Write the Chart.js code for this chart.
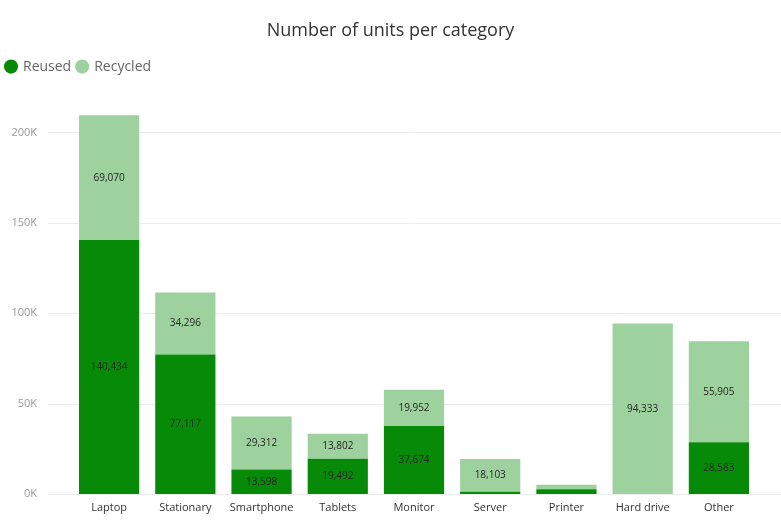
<!DOCTYPE html>
<html>
<head>
<meta charset="utf-8">
<script src="https://cdn.jsdelivr.net/npm/chart.js@4"></script>
<style>
  html, body { margin: 0; padding: 0; background: #fff; overflow: hidden; }
  canvas { display: block; }
</style>
</head>
<body>
<canvas id="units" width="781" height="520"></canvas>
<script>
const categories = ['Laptop', 'Stationary', 'Smartphone', 'Tablets', 'Monitor', 'Server', 'Printer', 'Hard drive', 'Other'];
const reused = [140434, 77117, 13598, 19492, 37674, 1200, 2600, 0, 28583];
const recycled = [69070, 34296, 29312, 13802, 19952, 18103, 2500, 94333, 55905];
const yTicks = [0, 50000, 100000, 150000, 200000];

const fontFamily = '"Open Sans", "DejaVu Sans", sans-serif';

// light grid lines that run across the whole width, like the original
const gridPlugin = {
  id: 'wideGrid',
  beforeDatasetsDraw(chart) {
    const ctx = chart.ctx;
    const y = chart.scales.y;
    ctx.save();
    ctx.strokeStyle = '#ececec';
    ctx.lineWidth = 1;
    yTicks.forEach(function (v) {
      const py = Math.round(y.getPixelForValue(v)) + 0.5;
      ctx.beginPath();
      ctx.moveTo(48, py);
      ctx.lineTo(chart.width, py);
      ctx.stroke();
    });
    ctx.restore();
  }
};

// value labels in the middle of each segment
const labelPlugin = {
  id: 'segLabels',
  afterDatasetsDraw(chart) {
    const ctx = chart.ctx;
    ctx.save();
    ctx.font = '10px ' + fontFamily;
    ctx.fillStyle = '#252525';
    ctx.textAlign = 'center';
    ctx.textBaseline = 'middle';
    chart.data.datasets.forEach(function (ds, i) {
      chart.getDatasetMeta(i).data.forEach(function (bar, j) {
        const v = ds.data[j];
        if (v < 8000) return;
        const mid = (bar.y + bar.base) / 2;
        ctx.fillText(v.toLocaleString('en-US'), bar.x, mid);
      });
    });
    ctx.restore();
  }
};

new Chart(document.getElementById('units'), {
  type: 'bar',
  data: {
    labels: categories,
    datasets: [{
      label: 'Reused',
      data: reused,
      backgroundColor: '#078a07',
      categoryPercentage: 0.79,
      barPercentage: 1
    }, {
      label: 'Recycled',
      data: recycled,
      backgroundColor: '#9dd19d',
      categoryPercentage: 0.79,
      barPercentage: 1
    }]
  },
  options: {
    responsive: false,
    animation: false,
    layout: { padding: { left: 0, right: 0, bottom: 0 } },
    plugins: {
      title: {
        display: true,
        text: 'Number of units per category',
        color: '#333',
        font: { family: fontFamily, size: 18, weight: 'normal' },
        padding: { top: 20, bottom: 12 }
      },
      legend: {
        align: 'start',
        labels: {
          usePointStyle: true,
          pointStyle: 'circle',
          boxWidth: 10,
          boxHeight: 10,
          color: '#666',
          font: { family: fontFamily, size: 14 },
          padding: 6
        }
      },
      tooltip: { enabled: false }
    },
    scales: {
      x: {
        stacked: true,
        grid: { display: false, drawTicks: false },
        border: { display: false },
        afterFit(scale) { scale.height = 26; },
        ticks: {
          color: '#333',
          font: { family: fontFamily, size: 11 },
          padding: 7,
          maxRotation: 0
        }
      },
      y: {
        stacked: true,
        min: 0,
        max: 227000,
        grid: { display: false },
        border: { display: false },
        afterBuildTicks(scale) {
          scale.ticks = yTicks.map(function (v) { return { value: v }; });
        },
        afterFit(scale) {
          scale.width = 71;
          // tick padding is only meant to push labels left, not to pad vertically
          scale.paddingTop = 7;
          scale.paddingBottom = 7;
        },
        ticks: {
          color: '#999',
          font: { family: fontFamily, size: 11 },
          padding: 26,
          callback: function (v) { return (v / 1000) + 'K'; }
        }
      },
      // empty right-hand gutter
      yRight: {
        position: 'right',
        grid: { display: false },
        border: { display: false },
        ticks: { display: false },
        afterFit(scale) { scale.width = 24; }
      }
    }
  },
  plugins: [gridPlugin, labelPlugin]
});
</script>
</body>
</html>
